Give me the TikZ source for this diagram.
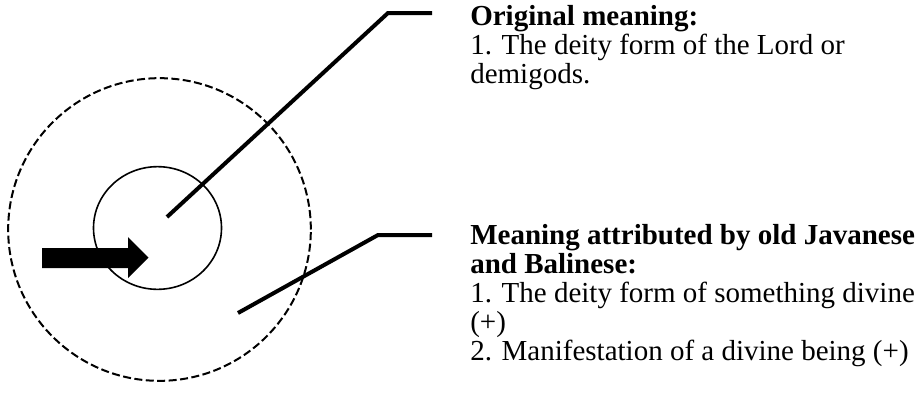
\documentclass[tikz,border=0pt]{standalone}
\usepackage{fontspec}
\setmainfont{Liberation Serif}
\usetikzlibrary{shapes.geometric}
\begin{document}
\begin{tikzpicture}[x=0.75pt,y=-0.75pt,
    leader/.style={line width=3pt},
    label text/.style={anchor=base west, align=left, inner sep=0pt,
        font=\fontsize{21.75}{21.6}\selectfont}]
                \useasboundingbox (0,0) rectangle (923,396);
                % Circles
                \node[circle, draw, dash pattern=on 6pt off 2.6pt, line width=1.5pt, minimum size=227pt] (outer) at (159.5,229.5) {};
                \node[ellipse, draw, line width=1.2pt, minimum width=96pt, minimum height=92pt] (inner) at (157.5,228) {};
                
                % Arrow into the core
                \fill (42,248) -- (128,248) -- (128,237) -- (148.5,257.5) -- (128,278) -- (128,268) -- (42,268) -- cycle;
                
                % Labels (base = last line)
                \node[label text] (orig) at (470,83) {\textbf{Original meaning:}\\1. The deity form of the Lord or\\demigods.};
                \node[label text] (attr) at (470,360) {\textbf{Meaning attributed by old Javanese}\\\textbf{and Balinese:}\\1. The deity form of something divine\\(+)\\2. Manifestation of a divine being (+)};
                
                % Leader lines
                \coordinate (inA) at (167,217);
                \coordinate (bendA) at (388,13);
                \coordinate (endA) at (432,13);
                \coordinate (inB) at (238,313);
                \coordinate (bendB) at (378,235);
                \coordinate (endB) at (432,235);
                \draw[leader] (inA) -- (bendA) -- (endA);
                \draw[leader] (inB) -- (bendB) -- (endB);
            \end{tikzpicture}
\end{document}
